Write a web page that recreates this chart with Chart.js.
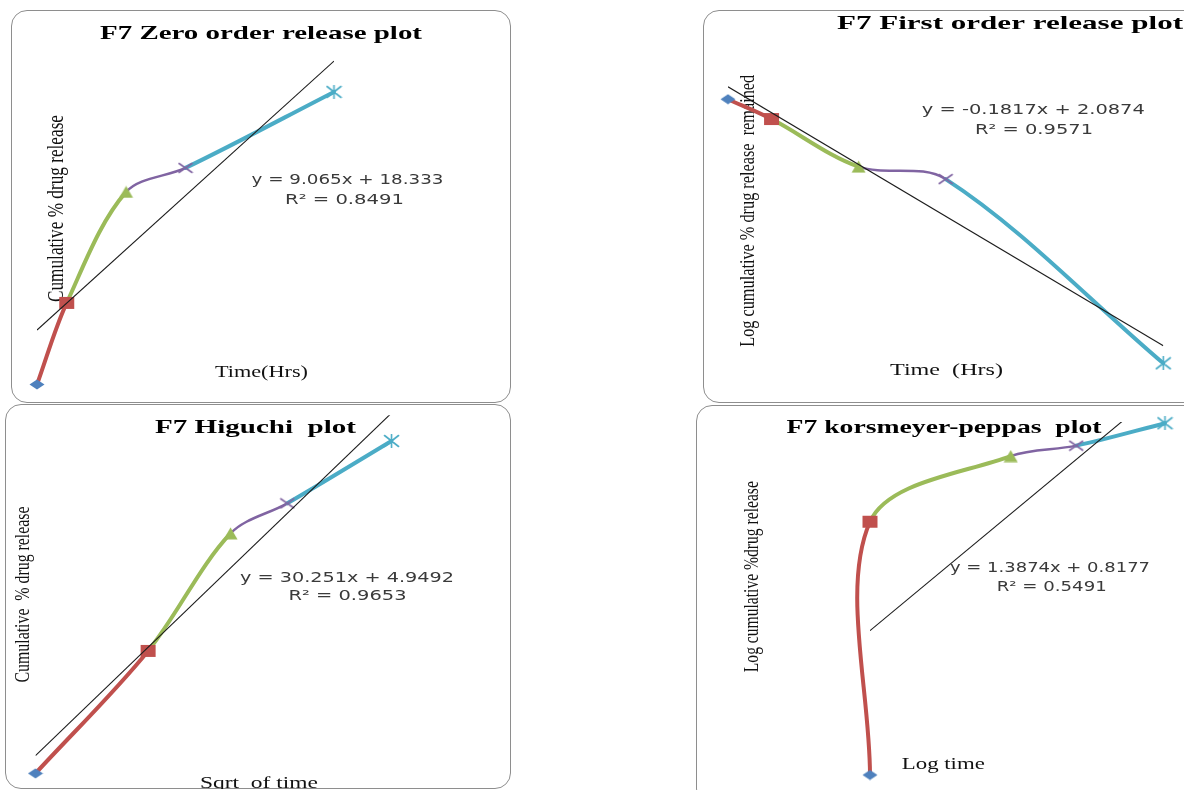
<!DOCTYPE html>
<html>
<head>
<meta charset="utf-8">
<script src="https://cdn.jsdelivr.net/npm/chart.js@4.4.1/dist/chart.umd.min.js"></script>
<style>
  html, body { margin: 0; padding: 0; background: #fff; width: 1184px; height: 790px; overflow: hidden; }
  .panel { position: absolute; box-sizing: border-box; border: 1.5px solid #8e8e8e; border-radius: 16px; background: #fff; }
  canvas.plot { position: absolute; }
</style>
</head>
<body>
<script>
// ---- F7 release data (sampling at 0, 1, 3, 5 and 10 h) ----
const zeroTime       = [0, 1, 3, 5, 10];
const zeroRelease    = [0, 27.5, 64.9, 73.0, 98.6];
const zeroFit        = { slope: 9.065, intercept: 18.333, r2: 0.8491 };

const firstTime      = [0, 1, 3, 5, 10];
const firstLogRemain = [2.0, 1.861, 1.527, 1.440, 0.148];
const firstFit       = { slope: -0.1817, intercept: 2.0874, r2: 0.9571 };

const higuchiSqrtT   = [0, 1, 1.732, 2.236, 3.162];
const higuchiRelease = [0, 34.2, 67.0, 75.4, 92.8];
const higuchiFit     = { slope: 30.251, intercept: 4.9492, r2: 0.9653 };

const kpLogTime      = [0, 0, 0.477, 0.699, 1];
const kpLogRelease   = [0, 1.435, 1.807, 1.866, 1.993];
const kpFit          = { slope: 1.3874, intercept: 0.8177, r2: 0.5491 };

// axis ranges [min, max]
const zeroXRange = [0, 10],  zeroYRange = [0, 110];
const firstXRange = [0, 10], firstYRange = [0, 2.2];
const higXRange = [0, 3.2],  higYRange = [0, 100];
const kpXRange = [0, 1],     kpYRange = [0, 2];

// ---- styling ----
const pointColors = ['#4F81BD', '#C0504D', '#9BBB59', '#8064A2', '#4BACC6'];
const segWidths   = [0, 4, 4, 2.5, 4];

function markerCanvas(kind, w, h, color) {
  const c = document.createElement('canvas');
  c.width = w; c.height = h;
  const g = c.getContext('2d');
  g.fillStyle = color; g.strokeStyle = color; g.lineWidth = 1.6; g.lineCap = 'round';
  g.beginPath();
  if (kind === 'diamond') {
    g.moveTo(w / 2, 0.5); g.lineTo(w - 0.5, h / 2); g.lineTo(w / 2, h - 0.5); g.lineTo(0.5, h / 2);
    g.closePath(); g.fill();
  } else if (kind === 'square') {
    g.fillRect(1, 1, w - 2, h - 2);
  } else if (kind === 'triangle') {
    g.moveTo(w / 2, 0.5); g.lineTo(w - 0.5, h - 0.5); g.lineTo(0.5, h - 0.5);
    g.closePath(); g.fill();
  } else if (kind === 'x') {
    g.moveTo(1.5, 1.5); g.lineTo(w - 1.5, h - 1.5); g.moveTo(w - 1.5, 1.5); g.lineTo(1.5, h - 1.5); g.stroke();
  } else if (kind === 'star') {
    g.moveTo(1.5, 1.5); g.lineTo(w - 1.5, h - 1.5); g.moveTo(w - 1.5, 1.5); g.lineTo(1.5, h - 1.5);
    g.moveTo(w / 2, 0.5); g.lineTo(w / 2, h - 0.5); g.stroke();
  }
  return c;
}

const markers = [
  markerCanvas('diamond', 16, 11, pointColors[0]),
  markerCanvas('square', 17, 14, pointColors[1]),
  markerCanvas('triangle', 15, 13, pointColors[2]),
  markerCanvas('x', 16, 12, pointColors[3]),
  markerCanvas('star', 17, 14, pointColors[4])
];

const serif = '"Liberation Serif", "Times New Roman", serif';
const sans = '"DejaVu Sans", Verdana, sans-serif';

function eqText(f) { return 'y = ' + f.slope + 'x + ' + f.intercept; }
function r2Text(f) { return 'R\u00B2 = ' + f.r2; }

// box / plot-area geometry in page pixels: box [left, top, width, height], area [left, top, right, bottom]
const panels = [
  {
    box: [11, 10, 500, 393], area: [37, 58.1, 334, 384.5],
    x: zeroTime, y: zeroRelease, fit: zeroFit, xr: zeroXRange, yr: zeroYRange,
    texts: [
      { t: 'F7 Zero order release plot', x: 261, y: 34.5, len: 322, font: 'bold 19px ' + serif, color: '#000' },
      { t: 'Cumulative % drug release', x: 57, y: 208.5, len: 187, rot: true, hs: 1.25, font: '18px ' + serif, color: '#111' },
      { t: 'Time(Hrs)', x: 261.5, y: 372.5, len: 93, font: '17.5px ' + serif, color: '#111' },
      { t: eqText(zeroFit), x: 347.5, y: 180.5, len: 192, font: '14px ' + sans, color: '#3a3a3a' },
      { t: r2Text(zeroFit), x: 344.5, y: 200, len: 119, font: '14px ' + sans, color: '#3a3a3a' }
    ]
  },
  {
    box: [703, 10, 620, 393], area: [728, 70.7, 1163.3, 384.4],
    x: firstTime, y: firstLogRemain, fit: firstFit, xr: firstXRange, yr: firstYRange,
    texts: [
      { t: 'F7 First order release plot', x: 1010, y: 24.5, len: 346, font: 'bold 19px ' + serif, color: '#000' },
      { t: 'Log cumulative % drug release  remained', x: 748.7, y: 210.8, len: 272, rot: true, hs: 1.25, font: '16px ' + serif, color: '#111' },
      { t: 'Time  (Hrs)', x: 946.5, y: 371, len: 113, font: '17px ' + serif, color: '#111' },
      { t: eqText(firstFit), x: 1033.3, y: 110, len: 223, font: '14px ' + sans, color: '#3a3a3a' },
      { t: r2Text(firstFit), x: 1034, y: 130, len: 118, font: '14px ' + sans, color: '#3a3a3a' }
    ]
  },
  {
    box: [5, 404, 506, 385], area: [35.5, 415.2, 395.8, 773.4],
    x: higuchiSqrtT, y: higuchiRelease, fit: higuchiFit, xr: higXRange, yr: higYRange,
    texts: [
      { t: 'F7 Higuchi  plot', x: 255.5, y: 428, len: 201, font: 'bold 18px ' + serif, color: '#000' },
      { t: 'Cumulative  % drug release', x: 24, y: 594.5, len: 176, rot: true, hs: 1.25, font: '16px ' + serif, color: '#111' },
      { t: 'Sqrt  of time', x: 259, y: 784, len: 118, font: '17px ' + serif, color: '#111' },
      { t: eqText(higuchiFit), x: 347, y: 578.3, len: 214, font: '14px ' + sans, color: '#3a3a3a' },
      { t: r2Text(higuchiFit), x: 347.5, y: 596.7, len: 118, font: '14px ' + sans, color: '#3a3a3a' }
    ]
  },
  {
    box: [696, 405, 620, 400], area: [870, 422, 1165, 775],
    x: kpLogTime, y: kpLogRelease, fit: kpFit, xr: kpXRange, yr: kpYRange,
    texts: [
      { t: 'F7 korsmeyer-peppas  plot', x: 944, y: 427.7, len: 315, font: 'bold 19px ' + serif, color: '#000' },
      { t: 'Log cumulative %drug release', x: 753, y: 576.7, len: 191, rot: true, hs: 1.2, font: '17px ' + serif, color: '#111' },
      { t: 'Log time', x: 943.3, y: 765, len: 83, font: '17px ' + serif, color: '#111' },
      { t: eqText(kpFit), x: 1050, y: 568.3, len: 200, font: '14px ' + sans, color: '#3a3a3a' },
      { t: r2Text(kpFit), x: 1051.7, y: 587.7, len: 110, font: '14px ' + sans, color: '#3a3a3a' }
    ]
  }
];

// draws the titles, axis captions and fit labels under the curves
function textPlugin(items, ox, oy) {
  return {
    id: 'panelText',
    beforeDatasetsDraw(chart) {
      const ctx = chart.ctx;
      for (const it of items) {
        ctx.save();
        ctx.font = it.font;
        ctx.fillStyle = it.color;
        ctx.textAlign = 'center';
        ctx.textBaseline = 'middle';
        const w = ctx.measureText(it.t).width;
        ctx.translate(it.x - ox, it.y - oy);
        if (it.rot) {
          ctx.scale(it.hs, it.len / w);
          ctx.rotate(-Math.PI / 2);
        } else {
          ctx.scale(it.len / w, 1);
        }
        ctx.fillText(it.t, 0, 0);
        ctx.restore();
      }
    }
  };
}

function buildPanel(p) {
  const [bx, by, bw, bh] = p.box;
  const [al, at, ar, ab] = p.area;

  const frame = document.createElement('div');
  frame.className = 'panel';
  Object.assign(frame.style, { left: bx + 'px', top: by + 'px', width: bw + 'px', height: bh + 'px' });
  document.body.appendChild(frame);

  const cv = document.createElement('canvas');
  cv.className = 'plot';
  cv.width = bw; cv.height = bh;
  Object.assign(cv.style, { left: bx + 'px', top: by + 'px', width: bw + 'px', height: bh + 'px' });
  document.body.appendChild(cv);

  const pts = p.x.map((x, i) => ({ x: x, y: p.y[i] }));
  const xLo = Math.min(...p.x), xHi = Math.max(...p.x);
  const fitPts = [
    { x: xLo, y: p.fit.slope * xLo + p.fit.intercept },
    { x: xHi, y: p.fit.slope * xHi + p.fit.intercept }
  ];

  new Chart(cv, {
    type: 'scatter',
    data: {
      datasets: [
        {
          data: fitPts, showLine: true, borderColor: '#1c1c1c', borderWidth: 1.1,
          pointRadius: 0, tension: 0
        },
        {
          data: pts, showLine: true, tension: 0.33, capBezierPoints: false, clip: false,
          borderColor: pointColors[1], borderWidth: 4, borderCapStyle: 'round', borderJoinStyle: 'round',
          pointStyle: markers, pointRadius: 6,
          segment: {
            borderColor: c => pointColors[c.p1DataIndex],
            borderWidth: c => segWidths[c.p1DataIndex]
          }
        }
      ]
    },
    options: {
      responsive: false,
      animation: false,
      events: [],
      layout: { padding: { left: al - bx, top: at - by, right: bx + bw - ar, bottom: by + bh - ab } },
      scales: {
        x: { type: 'linear', display: false, min: p.xr[0], max: p.xr[1] },
        y: { type: 'linear', display: false, min: p.yr[0], max: p.yr[1] }
      },
      plugins: { legend: { display: false }, tooltip: { enabled: false }, title: { display: false } }
    },
    plugins: [textPlugin(p.texts, bx, by)]
  });
}

panels.forEach(buildPanel);
</script>
</body>
</html>
